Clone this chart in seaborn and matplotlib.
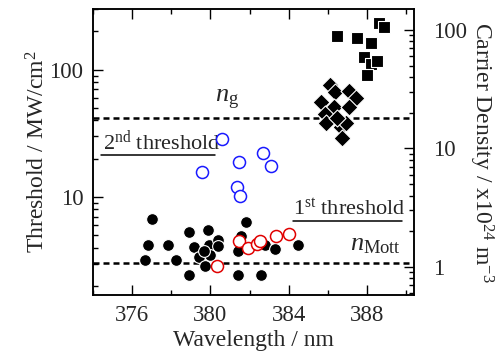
import seaborn as sns
import matplotlib
matplotlib.use('Agg')
import matplotlib.pyplot as plt
from matplotlib.ticker import FuncFormatter, NullFormatter, MultipleLocator

# 1st threshold (filled black circles)
dot_wl = [376.68, 376.81, 377.04, 377.85, 378.22, 378.89, 379.17, 378.89, 379.40, 379.73, 379.89, 379.91,
          380.37, 380.39, 379.99, 379.65, 381.81, 381.56, 381.43, 381.40, 382.58, 382.80, 383.31, 384.46]
dot_th = [3.19, 4.17, 6.73, 4.17, 3.18, 5.28, 4.07, 2.44, 3.40, 2.89, 5.52, 4.17,
          4.56, 4.11, 3.48, 3.80, 6.41, 4.96, 3.79, 2.44, 2.44, 4.17, 3.92, 4.22]
# 1st threshold (open red circles)
red_wl = [380.32, 381.44, 381.93, 382.38, 382.52, 383.36, 384.0]
red_th = [2.87, 4.53, 4.00, 4.30, 4.49, 4.93, 5.14]
# 2nd threshold (open blue circles)
blue_wl = [380.58, 379.56, 381.44, 381.38, 381.53, 382.71, 383.08]
blue_th = [28.4, 15.6, 19.0, 11.9, 10.2, 22.1, 17.4]
# carrier density (squares / diamonds)
sq_wl = [386.47, 387.49, 388.18, 388.60, 388.86, 387.83, 388.18, 388.51, 388.0]
sq_th = [184, 179, 163, 234, 215, 126, 111, 118, 91.4]
dia_wl = [386.12, 386.37, 387.06, 387.46, 385.63, 386.29, 387.06, 385.83, 385.93, 386.65, 386.71, 386.95, 386.46]
dia_th = [76.4, 67.3, 68.5, 59.9, 56.2, 50.9, 51.4, 45.3, 38.5, 35.2, 28.9, 37.9, 41.9]

n_g = 42
n_mott = 3.05

sns.set_theme(style="ticks")
plt.rcParams['font.family'] = ['Liberation Serif', 'DejaVu Serif']
plt.rcParams['mathtext.fontset'] = 'custom'
plt.rcParams['mathtext.rm'] = 'Liberation Serif'
plt.rcParams['mathtext.it'] = 'Liberation Serif:italic'

fig = plt.figure(figsize=(4.98, 3.6), dpi=100)
ax = fig.add_axes([0.1867, 0.1806, 0.6446, 0.7944])

ax.axhline(n_g, color='black', lw=1.8, ls=(0, (2.4, 1.6)), zorder=1)
ax.axhline(n_mott, color='black', lw=1.8, ls=(0, (2.4, 1.6)), zorder=1)

sns.scatterplot(x=dot_wl, y=dot_th, ax=ax, marker='o', s=72, color='black', edgecolor='white', linewidth=0.8, zorder=3)
sns.scatterplot(x=red_wl, y=red_th, ax=ax, marker='o', s=75, color='white', edgecolor='#e00000', linewidth=1.1, zorder=4)
sns.scatterplot(x=blue_wl, y=blue_th, ax=ax, marker='o', s=75, color='white', edgecolor='#1a1aff', linewidth=1.1, zorder=4)
sns.scatterplot(x=sq_wl, y=sq_th, ax=ax, marker='s', s=85, color='black', edgecolor='white', linewidth=0.8, zorder=3)
sns.scatterplot(x=dia_wl, y=dia_th, ax=ax, marker='D', s=75, color='black', edgecolor='white', linewidth=0.8, zorder=3)

ax.set_yscale('log')
ax.set_xlim(374, 390.4)
ax.set_ylim(1.7, 300)
ax.xaxis.set_major_locator(MultipleLocator(4))
ax.xaxis.set_minor_locator(MultipleLocator(2))
ax.yaxis.set_major_formatter(FuncFormatter(lambda v, _: f"{v:g}"))
ax.yaxis.set_minor_formatter(NullFormatter())
ax.tick_params(which='both', direction='in', top=True, right=False, labelsize=16.5, width=1.0, color='black', pad=7)
ax.tick_params(which='major', length=7)
ax.tick_params(which='minor', length=3.5)
ax.set_xlabel("Wavelength / nm", fontsize=17, labelpad=3)
ax.set_ylabel("Threshold / MW/cm$^{2}$", fontsize=17, labelpad=0)
for sp in ax.spines.values():
    sp.set_linewidth(1.1)
    sp.set_color('black')

ax2 = ax.twinx()
ax2.set_yscale('log')
ax2.set_ylim(0.58, 150)
ax2.yaxis.set_major_formatter(FuncFormatter(lambda v, _: f"{v:g}"))
ax2.yaxis.set_minor_formatter(NullFormatter())
ax2.tick_params(which='both', direction='in', labelsize=16.5, width=1.0, color='black', pad=14)
ax2.tick_params(which='major', length=7)
ax2.tick_params(which='minor', length=3.5)
ax2.set_ylabel("Carrier Density / x10$^{24}$ m$^{-3}$", fontsize=17, rotation=270, labelpad=20)
for sp in ax2.spines.values():
    sp.set_linewidth(1.1)
    sp.set_color('black')

ax.text(0.031, 0.507, "2$^{\\rm nd}$ threshold", transform=ax.transAxes, fontsize=16, va='baseline', ha='left')
ax.plot([0.025, 0.380], [0.4895, 0.4895], transform=ax.transAxes, color='black', lw=1.1, clip_on=False)
ax.text(0.623, 0.280, "1$^{\\rm st}$ threshold", transform=ax.transAxes, fontsize=16, va='baseline', ha='left')
ax.plot([0.623, 0.963], [0.259, 0.259], transform=ax.transAxes, color='black', lw=1.1, clip_on=False)
ax.text(0.380, 0.675, "$n_{\\rm g}$", transform=ax.transAxes, fontsize=19, va='baseline', ha='left')
ax.text(0.800, 0.157, "$n_{\\rm Mott}$", transform=ax.transAxes, fontsize=19, va='baseline', ha='left')

fig.savefig("out.png", dpi=100)
